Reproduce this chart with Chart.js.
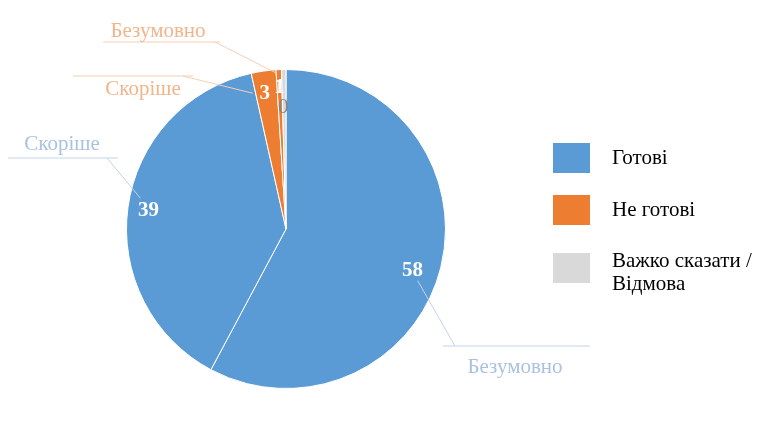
<!DOCTYPE html>
<html>
<head>
<meta charset="utf-8">
<script src="https://cdn.jsdelivr.net/npm/chart.js@4.4.1/dist/chart.umd.min.js"></script>
<style>
  html, body { margin: 0; padding: 0; background: #fff; }
  canvas { display: block; }
</style>
</head>
<body>
<canvas id="pieChart" width="780" height="422"></canvas>
<script>
// Дані діаграми
const sliceLabels = ['Безумовно', 'Скоріше', 'Скоріше', 'Безумовно', ''];
const sliceGroups = [0, 0, 1, 1, 2];              // до якої групи легенди належить сектор
const sliceValues = [57.8, 38.7, 2.5, 0.55, 0.45]; // підписи округлені: 58, 39, 3, 1, 0
const legendLabels = ['Готові', 'Не готові', ['Важко сказати /', 'Відмова']];

// Стилі
const groupColors = ['#5b9bd5', '#ed7d31', '#d9d9d9'];
const calloutText = ['#a9c2df', '#a9c2df', '#f2b48a', '#f2b48a'];
const calloutLine = ['#c3d3e8', '#c3d3e8', '#f6cfb3', '#f6cfb3'];
const SERIF = '"Liberation Serif", "Times New Roman", serif';

// розташування виносок відносно центру кола (px)
const calloutLayout = [
  { text: [229, 138], under: [157, 304, 117], elbow: [169, 117], from: [5, 10] },
  { text: [-224, -85], under: [-278, -168, -71], elbow: [-179, -71], from: [-8, -12] },
  { text: [-143, -140], under: [-213, -93, -153], elbow: [-103, -153], from: [-12, 0] },
  { text: [-128, -198], under: [-183, -66, -187], elbow: [-71, -187], from: [-3, -14] }
];
const valueRadius = [0.87, 0.87, 0.86, 0.89, 0.77];
const valueShift = [[-8, 8], [0, 0], [-2, 0], [0, 0], [-1, 1]];

const labelsPlugin = {
  id: 'sliceLabels',
  afterDatasetsDraw(chart) {
    const ctx = chart.ctx;
    const arcs = chart.getDatasetMeta(0).data;
    ctx.save();
    ctx.textAlign = 'center';
    ctx.textBaseline = 'middle';
    arcs.forEach((arc, i) => {
      const { x, y, startAngle, endAngle, outerRadius } = arc.getProps(['x', 'y', 'startAngle', 'endAngle', 'outerRadius'], true);
      const mid = (startAngle + endAngle) / 2;
      const lx = x + Math.cos(mid) * outerRadius * valueRadius[i] + valueShift[i][0];
      const ly = y + Math.sin(mid) * outerRadius * valueRadius[i] + valueShift[i][1];
      const grey = sliceGroups[i] === 2;
      ctx.font = (grey ? '' : 'bold ') + '21px ' + SERIF;
      ctx.fillStyle = grey ? '#858585' : '#ffffff';
      ctx.fillText(String(Math.round(sliceValues[i])), lx, ly);

      const c = calloutLayout[i];
      if (!c) return;
      ctx.strokeStyle = calloutLine[i];
      ctx.lineWidth = 1;
      ctx.beginPath();
      ctx.moveTo(lx + c.from[0], ly + c.from[1]);
      ctx.lineTo(x + c.elbow[0], y + c.elbow[1]);
      ctx.stroke();
      ctx.beginPath();
      ctx.moveTo(x + c.under[0], y + c.under[2]);
      ctx.lineTo(x + c.under[1], y + c.under[2]);
      ctx.stroke();
      ctx.font = '21px ' + SERIF;
      ctx.fillStyle = calloutText[i];
      ctx.fillText(sliceLabels[i], x + c.text[0], y + c.text[1]);
    });
    ctx.restore();
  }
};

const legendPlugin = {
  id: 'sideLegend',
  afterDraw(chart) {
    const ctx = chart.ctx;
    const boxX = 553, textX = 612;
    const rows = [143, 195, 253];
    ctx.save();
    ctx.textAlign = 'left';
    ctx.textBaseline = 'middle';
    ctx.font = '21px ' + SERIF;
    legendLabels.forEach((lab, i) => {
      ctx.fillStyle = groupColors[i];
      ctx.fillRect(boxX, rows[i], 37, 30);
      ctx.fillStyle = '#000000';
      const lines = Array.isArray(lab) ? lab : [lab];
      const top = lines.length > 1 ? rows[i] + 8 : rows[i] + 15;
      lines.forEach((t, k) => ctx.fillText(t, textX, top + k * 23));
    });
    ctx.restore();
  }
};

new Chart(document.getElementById('pieChart').getContext('2d'), {
  type: 'pie',
  data: {
    labels: sliceLabels,
    datasets: [{
      data: sliceValues,
      backgroundColor: sliceGroups.map(g => groupColors[g]),
      borderColor: '#ffffff',
      borderWidth: 1
    }]
  },
  options: {
    responsive: false,
    animation: false,
    events: [],
    layout: { padding: { left: 126, right: 334, top: 69, bottom: 33 } },
    plugins: { legend: { display: false }, tooltip: { enabled: false } }
  },
  plugins: [labelsPlugin, legendPlugin]
});
</script>
</body>
</html>
